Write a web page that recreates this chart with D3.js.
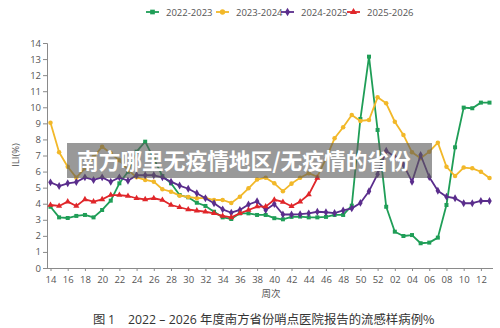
<!DOCTYPE html>
<html><head><meta charset="utf-8">
<script src="https://cdn.jsdelivr.net/npm/d3@7"></script>
<style>html,body{margin:0;padding:0;background:#fff;}svg{display:block;}</style>
</head><body>
<svg id="c" width="500" height="328"></svg>
<script>
const weeks = ["14","15","16","17","18","19","20","21","22","23","24","25","26","27","28","29","30","31","32","33","34","35","36","37","38","39","40","41","42","43","44","45","46","47","48","49","50","51","52","01","02","03","04","05","06","07","08","09","10","11","12","13"];
const xTickLabels = ["14","16","18","20","22","24","26","28","30","32","34","36","38","40","42","44","46","48","50","52","02","04","06","08","10","12"];
const yTicks = [0,1,2,3,4,5,6,7,8,9,10,11,12,13,14];
const seriesNames = ["2022-2023","2023-2024","2024-2025","2025-2026"];
const s2022 = [3.81,3.15,3.11,3.24,3.3,3.15,3.61,4.19,5.27,5.99,7.24,7.86,6.8,5.72,5.27,4.54,4.4,4.06,3.86,3.5,3.15,3.05,3.4,3.4,3.3,3.3,3.1,3.03,3.18,3.2,3.15,3.15,3.18,3.3,3.3,3.88,9.27,13.15,8.59,3.81,2.26,1.99,2.05,1.54,1.58,1.89,3.92,7.51,9.98,9.94,10.29,10.29];
const s2023 = [9.04,7.2,6.3,5.62,6.2,6.9,7.55,7.14,6.7,6.1,5.64,5.48,5.37,4.9,4.75,4.5,4.42,4.34,4.36,4.23,4.23,4.05,4.44,4.96,5.5,5.62,5.27,4.78,5.25,5.62,5.9,5.68,6.8,8.07,8.76,9.52,9.15,9.21,10.62,10.25,9.1,8.28,7.2,6.83,7.24,7.8,6.3,5.72,6.25,6.2,5.99,5.6];
const s2024 = [5.33,5.1,5.27,5.35,5.64,5.48,5.64,5.37,5.64,5.43,5.77,5.77,5.77,5.64,5.37,5.13,4.93,4.65,4.34,4.03,3.65,3.44,3.61,3.95,4.15,3.61,3.98,3.33,3.33,3.35,3.4,3.5,3.47,3.42,3.58,3.71,4.05,4.78,5.84,7.3,6.91,6.43,5.37,7.03,5.66,4.81,4.44,4.34,4.03,4.03,4.17,4.17];
const s2025 = [3.92,3.86,4.13,3.86,4.27,4.13,4.27,4.54,4.54,4.48,4.34,4.27,4.34,4.23,3.92,3.78,3.64,3.57,3.5,3.4,3.24,3.15,3.4,3.61,3.82,3.82,4.25,4.11,3.84,4.13,4.57,5.6];
const colors = ["#1f9e57","#f2b829","#5a2d8c","#e0262a"];
const symbols = [d3.symbolSquare, d3.symbolCircle, d3.symbolDiamond, d3.symbolTriangle];
const symSizes = [16, 16, 18, 16];
const titleY = "ILI(%)";
const titleX = "周次";
const captionParts = ["图", "1", "2022 – 2026", "年度南方省份哨点医院报告的流感样病例%"];
const watermark = "南方哪里无疫情地区/无疫情的省份";

const svg = d3.select("#c");
const x = d3.scalePoint().domain(weeks).range([50.5, 489.5]);
const y = d3.scaleLinear().domain([0,14]).range([268, 43]);
const font = "'Open Sans','Noto Sans',sans-serif";
const cjk = "'Noto Sans CJK SC',sans-serif";

// axes
const gy = svg.append("g").attr("transform","translate(47,0)")
  .call(d3.axisLeft(y).tickValues(yTicks).tickSize(4).tickPadding(2));
const gx = svg.append("g").attr("transform","translate(0,268)")
  .call(d3.axisBottom(x).tickValues(xTickLabels).tickSize(3).tickPadding(5));
gx.select(".domain").attr("d","M47,0.5H493");
[gy,gx].forEach(g=>{
  g.selectAll(".domain").attr("stroke","#8a8a8a");
  g.selectAll(".tick line").attr("stroke","#8a8a8a");
  g.selectAll(".tick text").attr("fill","#555").attr("font-size","9.5px").attr("font-family",font);
});

svg.append("text").attr("transform","translate(19,155) rotate(-90)")
  .attr("text-anchor","middle").attr("fill","#555").attr("font-size","9.5px")
  .attr("font-family",font).text(titleY);
svg.append("text").attr("x",271).attr("y",297).attr("text-anchor","middle")
  .attr("fill","#555").attr("font-size","9.5px").attr("font-family",cjk).text(titleX);

// series
const allSeries = [s2022, s2023, s2024, s2025];
const line = d3.line().x((d,i)=>x(weeks[i])).y(d=>y(d));
allSeries.forEach((s,k)=>{
  const g = svg.append("g");
  g.append("path").attr("d", line(s)).attr("fill","none").attr("stroke",colors[k]).attr("stroke-width",1.8).attr("stroke-linejoin","round");
  g.selectAll("path.m").data(s).join("path").attr("class","m")
    .attr("transform",(d,i)=>`translate(${x(weeks[i])},${y(d)})`)
    .attr("d", d3.symbol().type(symbols[k]).size(symSizes[k]))
    .attr("fill",colors[k]);
});

// legend
const legX = [146, 216, 281, 347];
seriesNames.forEach((n,k)=>{
  const g = svg.append("g").attr("transform",`translate(${legX[k]},12)`);
  g.append("line").attr("x1",0).attr("x2",13).attr("stroke",colors[k]).attr("stroke-width",1.8);
  g.append("path").attr("transform","translate(6.5,0)").attr("d", d3.symbol().type(symbols[k]).size(22)).attr("fill",colors[k]);
  g.append("text").attr("x",20).attr("y",3.5).attr("fill","#555").attr("font-size","9.5px").attr("font-family",font).text(n);
});

// caption
const cap = svg.append("g").attr("fill","#333");
cap.append("text").attr("x",93).attr("y",324).attr("font-size","12.3px").attr("font-family",cjk).text(captionParts[0]);
cap.append("text").attr("x",108).attr("y",324).attr("font-size","12.3px").attr("font-family",font).text(captionParts[1]);
cap.append("text").attr("x",128).attr("y",324).attr("font-size","12.3px").attr("font-family",font).text(captionParts[2]);
cap.append("text").attr("x",200).attr("y",324).attr("font-size","12.4px").attr("font-family",cjk).text(captionParts[3]);

// watermark overlay
svg.append("rect").attr("x",67).attr("y",143).attr("width",365).attr("height",35).attr("fill","rgba(90,90,90,0.62)");
svg.append("text").attr("x",77).attr("y",169).attr("fill","#fff").attr("font-size","21.7px").attr("font-weight","bold")
  .attr("font-family",cjk).text(watermark);
</script>
</body></html>
